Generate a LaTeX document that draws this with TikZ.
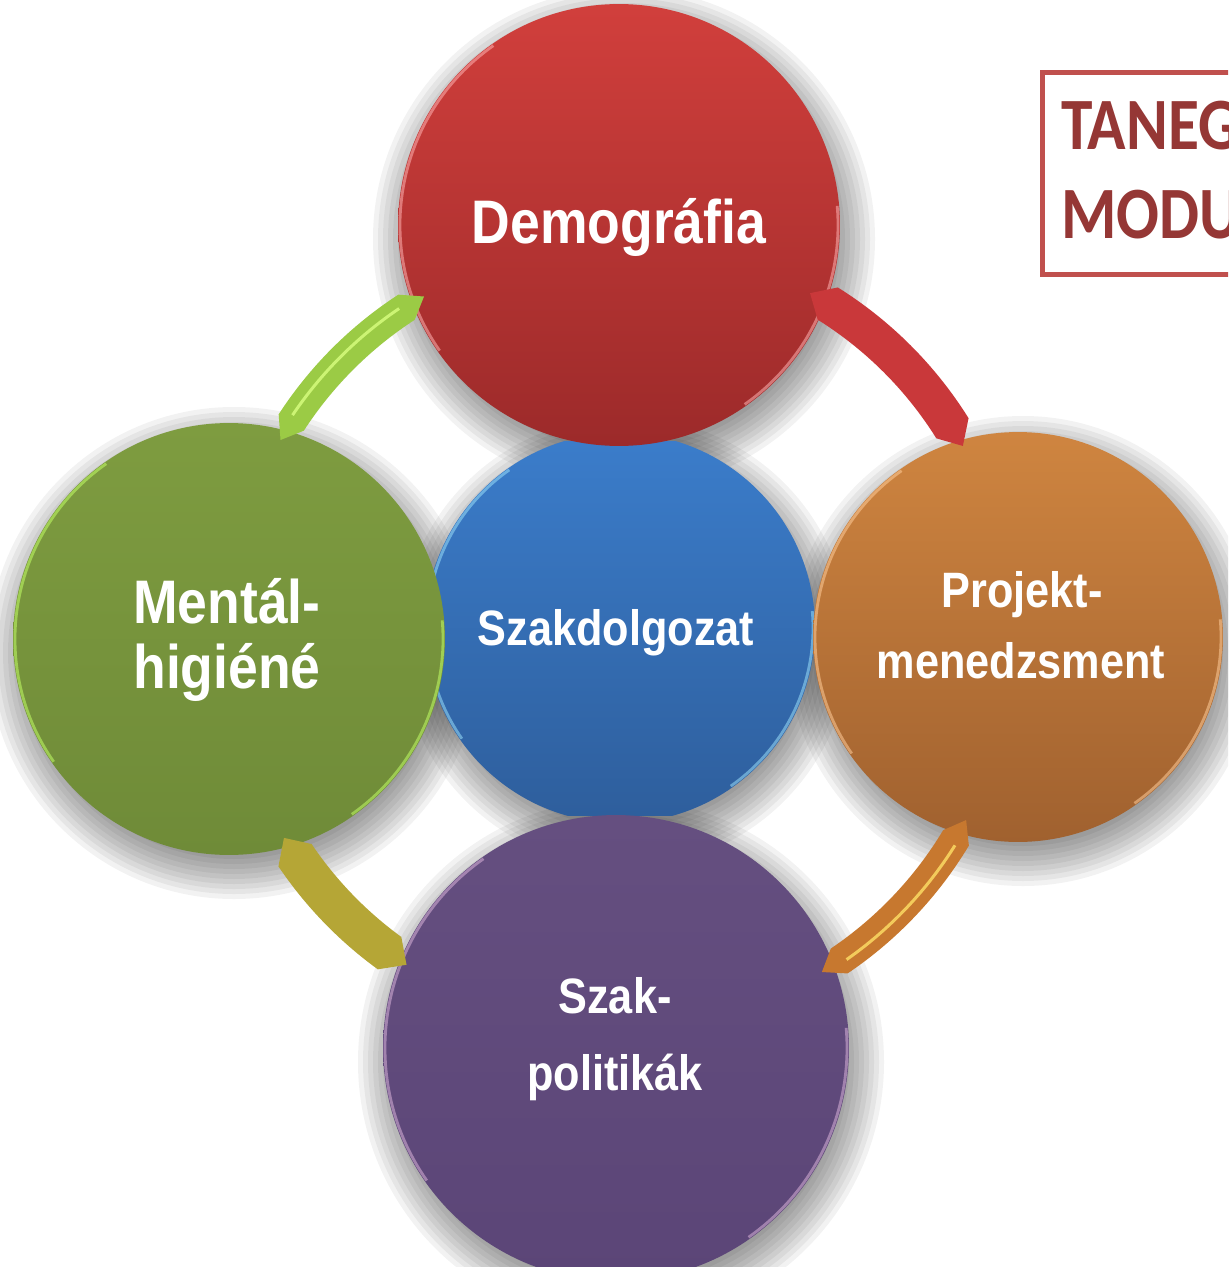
\documentclass[tikz,border=0pt]{standalone}
\usepackage{fontspec}
\setmainfont{Liberation Sans}
\newfontfamily\ballfont[FakeStretch=0.87]{Liberation Sans}
\newfontfamily\boxfont[FakeStretch=0.86]{Carlito}
\usetikzlibrary{calc, positioning}

\definecolor{demotop}{HTML}{D13F3C}
\definecolor{demobot}{HTML}{9C2A2A}
\definecolor{szaktop}{HTML}{3B7DCB}
\definecolor{szakbot}{HTML}{2E5E9C}
\definecolor{menttop}{HTML}{7E9C40}
\definecolor{mentbot}{HTML}{6F8B38}
\definecolor{projtop}{HTML}{CF8540}
\definecolor{projbot}{HTML}{A0612F}
\definecolor{poltop}{HTML}{654F80}
\definecolor{polbot}{HTML}{5B4577}
\definecolor{bandgreen}{HTML}{9BCB45}
\definecolor{bandred}{HTML}{C9383A}
\definecolor{bandorange}{HTML}{C7782F}
\definecolor{bandolive}{HTML}{B5A636}
\definecolor{boxred}{HTML}{C0504D}
\definecolor{textred}{HTML}{953735}

% soft shadow under a ball: x, y, radius
\newcommand{\ballshadow}[3]{%
  \foreach \k in {0,...,8}
    \fill[black, opacity=0.05] (#1+5,#2-14) circle[radius=#3-10+5*\k];}
% band of the ring round the hub: colour, from, to, half width
\newcommand{\ringband}[4]{%
  \fill[#1] ($(hub)+(#2:392)$) -- ($(hub)+({#2+3}:{392+#4})$)
    arc[start angle=#2+3, end angle=#3-3, radius=392+#4]
    -- ($(hub)+(#3:392)$) -- ($(hub)+({#3-3}:{392-#4})$)
    arc[start angle=#3-3, end angle=#2+3, radius=392-#4] -- cycle;}
% light bevel on a ball: node, radius, colour
\newcommand{\ballrim}[3]{%
  \draw[#3, line width=1.6pt, opacity=0.55] ($(#1)+(125:#2)$) arc[start angle=125, end angle=215, radius=#2];
  \draw[#3, line width=1.6pt, opacity=0.55] ($(#1)+(-55:#2)$) arc[start angle=-55, end angle=5, radius=#2];}

\tikzset{
  ball/.style={circle, inner sep=0pt},
  bigtext/.style={text=white, inner sep=0pt, anchor=base, font=\ballfont\bfseries\fontsize{35}{40}\selectfont},
  smalltext/.style={text=white, inner sep=0pt, anchor=base, font=\ballfont\bfseries\fontsize{28.3}{34}\selectfont},
  modbox/.style={draw=boxred, line width=2.8pt, minimum width=4.6cm, minimum height=4.04cm, anchor=north west, inner sep=0pt},
  modtext/.style={text=textred, inner sep=0pt, anchor=base west, font=\boxfont\bfseries\fontsize{42}{48}\selectfont}
}

\begin{document}
\begin{tikzpicture}[x=0.02cm, y=0.02cm]
\useasboundingbox (0,0) rectangle (1228,-1267);
\clip (0,0) rectangle (1228,-1267);
\fill[white] (0,0) rectangle (1228,-1267);
\coordinate (hub) at (620,-636);

% shadows
\ballshadow{619}{-225}{221}
\ballshadow{620}{-628}{195}
\ballshadow{229}{-639}{216}
\ballshadow{1018}{-637}{205}
\ballshadow{616}{-1048}{233}

% balls
\begin{scope}
  \clip (400,-441) rectangle (840,-815);
  \node[ball, minimum size=7.8cm, top color=szaktop, bottom color=szakbot] (szak) at (620,-628) {};
  \ballrim{szak}{193}{cyan!40!white}
\end{scope}
\node[ball, minimum size=8.84cm, top color=demotop, bottom color=demobot] (demo) at (619,-225) {};
\node[ball, minimum size=9.32cm, top color=poltop, bottom color=polbot] (pol) at (616,-1048) {};
\node[ball, minimum size=8.64cm, top color=menttop, bottom color=mentbot] (ment) at (229,-639) {};
\node[ball, minimum size=8.2cm, top color=projtop, bottom color=projbot] (proj) at (1018,-637) {};
\ballrim{demo}{219}{red!30!white}
\ballrim{pol}{231}{violet!30!white}
\ballrim{ment}{214}{green!40!yellow!60!white}
\ballrim{proj}{203}{orange!40!white}

% ring bands
\ringband{bandgreen}{120}{150}{15}
\draw[green!30!yellow!50!white, line width=1.7pt, opacity=0.8] ($(hub)+(124:395)$) arc[start angle=124, end angle=146, radius=395];
\ringband{bandred}{29}{61}{19}
\ringband{bandorange}{-59}{-28}{15}
\draw[orange!40!yellow!60!white, line width=1.7pt, opacity=0.8] ($(hub)+(-55:395)$) arc[start angle=-55, end angle=-32, radius=395];
\ringband{bandolive}{211}{237}{20}

% labels
\node[bigtext] (demo1) at (619,-243) {Demográfia};
\node[smalltext] (szak1) at (616,-645) {Szakdolgozat};
\node[bigtext] (ment1) at (227,-623) {Mentál-};
\node[bigtext] (ment2) at (227,-688) {higiéné};
\node[smalltext] (proj1) at (1022,-607) {Projekt-};
\node[smalltext] (proj2) at (1021,-678) {menedzsment};
\node[smalltext] (pol1) at (615,-1013) {Szak-};
\node[smalltext] (pol2) at (615,-1090) {politikák};

% module box
\node[modbox] (modul) at (1040,-70) {};
\node[modtext] (mod1) at (1061,-150) {TANEG};
\node[modtext] (mod2) at (1061,-238) {MODU};
\end{tikzpicture}
\end{document}
